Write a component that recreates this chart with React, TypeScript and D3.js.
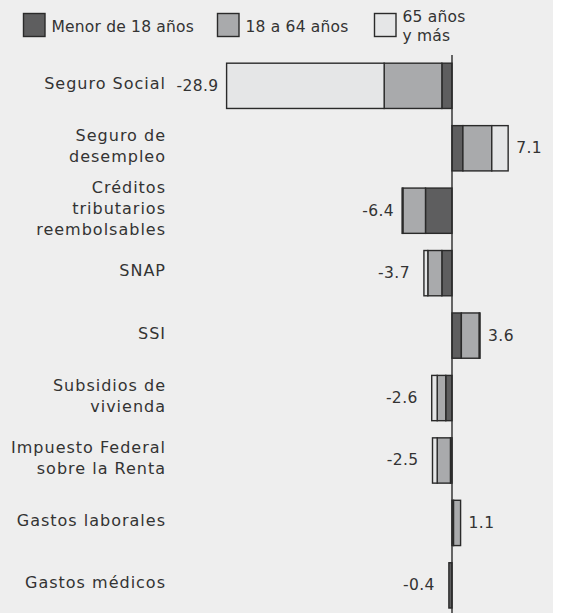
import React from "react";
import * as d3 from "d3";

const categories = [
  "Seguro Social",
  "Seguro de\ndesempleo",
  "Créditos\ntributarios\nreembolsables",
  "SNAP",
  "SSI",
  "Subsidios de\nvivienda",
  "Impuesto Federal\nsobre la Renta",
  "Gastos laborales",
  "Gastos médicos",
];
const totals = [-28.9, 7.1, -6.4, -3.7, 3.6, -2.6, -2.5, 1.1, -0.4];
const under18 = [-1.3, 1.4, -3.4, -1.3, 1.2, -0.8, -0.2, 0.2, -0.4];
const age18to64 = [-7.4, 3.7, -2.9, -1.8, 2.3, -1.1, -1.7, 0.9, 0];
const age65plus = [-20.2, 2.1, -0.1, -0.5, 0.1, -0.7, -0.6, 0, 0];
const seriesNames = ["Menor de 18 años", "18 a 64 años", "65 años\ny más"];
const seriesColors = ["#5e5e5f", "#a9aaac", "#e5e6e7"];

const W = 564;
const H = 613;
const BG_W = 553;
const FONT = "'DejaVu Sans', sans-serif";
const FS = 15.5;
const TEXT = "#333333";

export default function App() {
  const rows = categories.map((c, i) => ({
    cat: c,
    k0: under18[i],
    k1: age18to64[i],
    k2: age65plus[i],
  }));
  const stack = d3
    .stack<any>()
    .keys(["k0", "k1", "k2"])
    .offset(d3.stackOffsetDiverging);
  const layers = stack(rows);

  const x = d3.scaleLinear().domain([-28.9, 0]).range([226.6, 452]);
  const y = d3
    .scaleBand<string>()
    .domain(categories)
    .range([54.6, 616.6])
    .paddingInner(0.275)
    .paddingOuter(0.1375);

  const x0 = x(0);
  const legendX = [23.5, 217.5, 374.5];

  return (
    <svg width={W} height={H} style={{ position: "absolute", left: 0, top: 0 }}>
      <rect x={0} y={0} width={BG_W} height={H} fill="#eeeeee" />
      {/* legend */}
      {seriesNames.map((n, i) => {
        const lines = n.split("\n");
        return (
          <g key={n}>
            <rect
              x={legendX[i]}
              y={13.5}
              width={21.5}
              height={23}
              fill={seriesColors[i]}
              stroke="#2a2a2a"
              strokeWidth={1.4}
            />
            {lines.map((l, j) => (
              <text
                key={j}
                x={legendX[i] + 28}
                y={(lines.length === 1 ? 26.5 : 16.5) + j * 19.5}
                fontFamily={FONT}
                fontSize={FS}
                letterSpacing={0.2}
                fill={TEXT}
                dominantBaseline="central"
              >
                {l}
              </text>
            ))}
          </g>
        );
      })}
      {/* bars */}
      {layers.map((layer, li) => (
        <g key={li}>
          {layer.map((d, i) => {
            const a = x(d[0]);
            const b = x(d[1]);
            const w = Math.abs(b - a);
            if (w < 0.01) return null;
            return (
              <rect
                key={i}
                x={Math.min(a, b)}
                y={y(categories[i])}
                width={w}
                height={y.bandwidth()}
                fill={seriesColors[li]}
                stroke="#2a2a2a"
                strokeWidth={1.4}
              />
            );
          })}
        </g>
      ))}
      {/* axis line */}
      <line x1={x0} x2={x0} y1={55} y2={H} stroke="#2a2a2a" strokeWidth={1.4} />
      {/* category labels */}
      {categories.map((c, i) => {
        const lines = c.split("\n");
        const cy = (y(c) as number) + y.bandwidth() / 2 - 2.5;
        const lh = 21;
        const start = cy - ((lines.length - 1) * lh) / 2;
        return (
          <g key={c}>
            {lines.map((l, j) => (
              <text
                key={j}
                x={166}
                y={start + j * lh}
                textAnchor="end"
                fontFamily={FONT}
                fontSize={16}
                letterSpacing={1}
                fill={TEXT}
                dominantBaseline="central"
              >
                {l}
              </text>
            ))}
          </g>
        );
      })}
      {/* value labels */}
      {totals.map((v, i) => {
        const cy = (y(categories[i]) as number) + y.bandwidth() / 2;
        const sum = under18[i] + age18to64[i] + age65plus[i];
        const gap = v < 0 ? (Math.abs(v) < 5 ? 14 : 8) : 8;
        const px = v < 0 ? x(sum) - gap : x(sum) + gap;
        return (
          <text
            key={i}
            x={px}
            y={cy}
            textAnchor={v < 0 ? "end" : "start"}
            fontFamily={FONT}
            fontSize={FS}
            letterSpacing={0.4}
            fill={TEXT}
            dominantBaseline="central"
          >
            {v.toFixed(1)}
          </text>
        );
      })}
    </svg>
  );
}
